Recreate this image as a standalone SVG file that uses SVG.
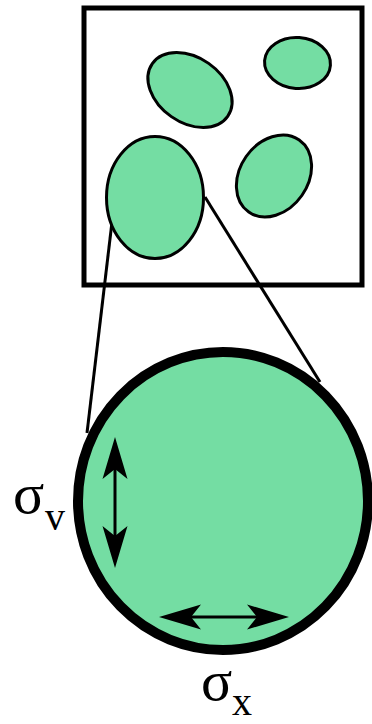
<svg xmlns="http://www.w3.org/2000/svg" width="372" height="724" viewBox="0 0 372 724">
<style>
.cell{fill:#74dda3;stroke:#000;stroke-width:3}
.conn{stroke:#000;stroke-width:3;fill:none}
.arr{stroke:#000;stroke-width:3;fill:none;marker-start:url(#ah);marker-end:url(#ah)}
.lbl{font-family:"Liberation Serif","Times New Roman",serif;fill:#000}
</style>
<defs>
<marker id="ah" markerUnits="userSpaceOnUse" markerWidth="44" markerHeight="28" refX="32" refY="14" orient="auto-start-reverse">
<path d="M42,14 L0,1.5 L10,14 L0,26.5 Z" fill="#000"/>
</marker>
</defs>
<rect id="frame" x="84" y="8" width="278" height="277" fill="#fff" stroke="#000" stroke-width="5"/>
<g id="connectors">
<line class="conn" x1="112" y1="222" x2="87" y2="433"/>
<line class="conn" x1="205" y1="197" x2="320" y2="382"/>
</g>
<g id="cell1"><ellipse class="cell" cx="190" cy="90" rx="46" ry="32.5" transform="rotate(35 190 90)"/></g>
<g id="cell2"><ellipse class="cell" cx="297.5" cy="63" rx="33" ry="25.5" transform="rotate(4 297.5 63)"/></g>
<g id="cell3"><ellipse class="cell" cx="155" cy="197.5" rx="48.5" ry="61"/></g>
<g id="cell4"><ellipse class="cell" cx="274" cy="176" rx="44" ry="34" transform="rotate(-55 274 176)"/></g>
<g id="zoomed">
<ellipse cx="223" cy="501" rx="145" ry="149" fill="#74dda3" stroke="#000" stroke-width="10"/>
<line class="arr" x1="115" y1="447" x2="115" y2="558"/>
<line class="arr" x1="169" y1="617" x2="279" y2="617"/>
</g>
<g id="labels">
<text class="lbl" x="13" y="513" font-size="58">σ</text>
<text class="lbl" x="45" y="530" font-size="40">v</text>
<text class="lbl" x="201" y="700" font-size="58">σ</text>
<text class="lbl" x="232" y="715" font-size="40">x</text>
</g>
</svg>
